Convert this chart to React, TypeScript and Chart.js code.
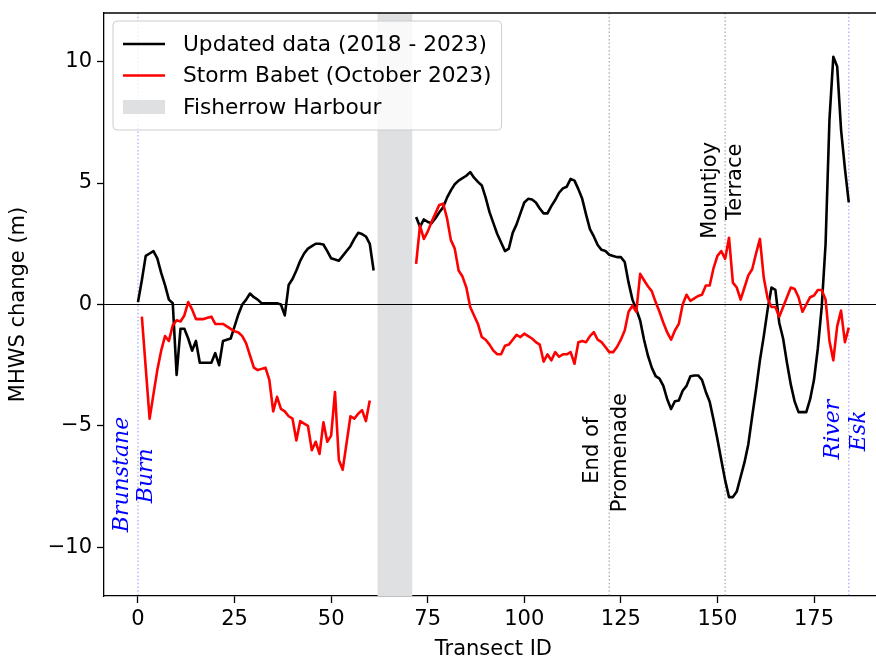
import React, { useEffect, useRef } from "react";
import { Chart, registerables } from "chart.js";

Chart.register(...registerables);

// ---------- data ----------
const xTickValues = [0, 25, 50, 75, 100, 125, 150, 175];
const yTickValues = [-10, -5, 0, 5, 10];

const seg1BlackStart = 0;
const seg1Black = [
  0.1, 1.0, 2.0, 2.1, 2.2, 1.9, 1.3, 0.8, 0.2, 0.05,
  -2.9, -1.0, -1.0, -1.4, -1.9, -1.5, -2.4, -2.4, -2.4, -2.4,
  -2.0, -2.5, -1.5, -1.45, -1.4, -0.9, -0.4, 0.0, 0.2, 0.45,
  0.3, 0.2, 0.05, 0.05, 0.05, 0.05, 0.05, 0.0, -0.45, 0.8,
  1.05, 1.4, 1.8, 2.1, 2.3, 2.4, 2.5, 2.5, 2.47, 2.2,
  1.9, 1.85, 1.8, 2.0, 2.2, 2.4, 2.7, 2.95, 2.9, 2.8,
  2.5, 1.4,
];

const seg1RedStart = 1;
const seg1Red = [
  -0.5, -2.6, -4.7, -3.7, -2.7, -1.9, -1.3, -1.5, -0.86, -0.65,
  -0.7, -0.45, 0.1, -0.2, -0.6, -0.6, -0.6, -0.55, -0.5, -0.8,
  -0.8, -0.8, -0.9, -1.0, -1.1, -1.15, -1.3, -1.6, -2.1, -2.6,
  -2.7, -2.65, -2.6, -3.1, -4.4, -3.8, -4.3, -4.4, -4.6, -4.7,
  -5.6, -4.8, -4.9, -5.0, -6.0, -5.65, -6.15, -4.85, -5.65, -5.4,
  -3.6, -6.4, -6.8, -5.7, -4.6, -4.7, -4.5, -4.35, -4.8, -3.95,
];

const seg2Start = 72;
const seg2Black = [
  3.6, 3.2, 3.5, 3.4, 3.35, 3.55, 3.8, 4.0, 4.4, 4.7,
  4.95, 5.1, 5.2, 5.3, 5.45, 5.22, 5.05, 4.9, 4.4, 3.8,
  3.35, 2.9, 2.55, 2.2, 2.3, 2.95, 3.3, 3.75, 4.2, 4.35,
  4.32, 4.2, 3.95, 3.75, 3.75, 4.05, 4.3, 4.6, 4.78, 4.85,
  5.17, 5.1, 4.75, 4.35, 3.7, 3.1, 2.8, 2.45, 2.25, 2.2,
  2.05, 2.0, 1.95, 1.95, 1.75, 0.9, 0.2, -0.2, -0.66, -1.45,
  -2.1, -2.6, -2.95, -3.05, -3.35, -3.9, -4.3, -3.98, -3.95, -3.55,
  -3.35, -2.95, -2.92, -2.92, -3.1, -3.6, -4.0, -4.75, -5.55, -6.4,
  -7.24, -7.93, -7.93, -7.7, -7.1, -6.5, -5.75, -4.6, -3.5, -2.3,
  -1.3, -0.2, 0.7, 0.6, -0.75, -1.4, -2.4, -3.3, -4.0, -4.43,
  -4.43, -4.43, -3.9, -3.1, -1.8, -0.1, 2.5, 7.6, 10.2, 9.8,
  7.2, 5.6, 4.2,
];
const seg2Red = [
  1.67, 3.25, 2.7, 3.0, 3.4, 3.75, 4.1, 4.15, 3.55, 2.65,
  2.3, 1.4, 1.15, 0.7, -0.1, -0.45, -0.8, -1.34, -1.45, -1.65,
  -1.9, -2.05, -2.05, -1.7, -1.65, -1.45, -1.25, -1.34, -1.2, -1.3,
  -1.4, -1.55, -1.65, -2.35, -2.05, -2.3, -1.96, -2.15, -2.05, -2.05,
  -1.96, -2.44, -1.55, -1.5, -1.55, -1.3, -1.14, -1.45, -1.55, -1.75,
  -1.96, -1.96, -1.75, -1.45, -1.07, -0.3, -0.05, -0.3, 1.26, 1.0,
  0.75, 0.55, 0.1, -0.3, -0.75, -1.15, -1.45, -1.07, -0.8, 0.0,
  0.4, 0.15, 0.25, 0.35, 0.4, 0.78, 0.78, 1.5, 2.0, 2.2,
  1.88, 2.75, 0.9, 0.7, 0.2, 0.7, 1.2, 1.45, 2.1, 2.7,
  1.1, 0.25, -0.1, -0.1, -0.5, -0.1, 0.3, 0.7, 0.64, 0.3,
  -0.3, 0.0, 0.3, 0.37, 0.6, 0.6, 0.2, -1.5, -2.3, -0.9,
  -0.25, -1.55, -0.95,
];

const gapX = 66;
const harbourRange = [62, 71];
const riverMouths = [0, 184];
const landmarks = [122, 152];

const seriesLabels = [
  "Updated data (2018 - 2023)",
  "Storm Babet (October 2023)",
  "Fisherrow Harbour",
];

type Note = { text: string; x: number; y: number; color: string; serif: boolean };
const notes: Note[] = [
  { text: "Brunstane", x: -4.1, y: -7.0, color: "#0000ff", serif: true },
  { text: "Burn", x: 2.1, y: -7.05, color: "#0000ff", serif: true },
  { text: "End of", x: 117.8, y: -6.0, color: "#000000", serif: false },
  { text: "Promenade", x: 125.0, y: -6.1, color: "#000000", serif: false },
  { text: "Mountjoy", x: 148.3, y: 4.7, color: "#000000", serif: false },
  { text: "Terrace", x: 154.8, y: 5.05, color: "#000000", serif: false },
  { text: "River", x: 179.9, y: -5.15, color: "#0000ff", serif: true },
  { text: "Esk", x: 186.6, y: -5.2, color: "#0000ff", serif: true },
];

// ---------- helpers ----------
const SANS = '"DejaVu Sans", sans-serif';
const SERIF = '"DejaVu Serif", serif';
const FS = 21;
const LEGEND_FS = 21.7;

function toPoints(start: number, vals: number[]) {
  return vals.map((v, i) => ({ x: start + i, y: v }));
}
function fmt(v: number) {
  return v < 0 ? "\u2212" + Math.abs(v) : String(v);
}

const blackPoints = [...toPoints(seg1BlackStart, seg1Black), { x: gapX, y: null }, ...toPoints(seg2Start, seg2Black)];
const redPoints = [...toPoints(seg1RedStart, seg1Red), { x: gapX, y: null }, ...toPoints(seg2Start, seg2Red)];

const decor = {
  id: "decor",
  beforeDatasetsDraw(chart: any) {
    const { ctx, chartArea: a, scales } = chart;
    const xs = scales.x;
    const ys = scales.y;
    ctx.save();
    ctx.beginPath();
    ctx.rect(a.left, a.top, a.right - a.left, a.bottom - a.top);
    ctx.clip();
    const h0 = xs.getPixelForValue(harbourRange[0]);
    const h1 = xs.getPixelForValue(harbourRange[1]);
    ctx.fillStyle = "#dfe0e2";
    ctx.fillRect(h0, a.top, h1 - h0, a.bottom - a.top);
    ctx.lineWidth = 1.4;
    ctx.setLineDash([1.5, 2.2]);
    ctx.strokeStyle = "rgba(0,0,255,0.3)";
    for (const v of riverMouths) {
      const p = xs.getPixelForValue(v);
      ctx.beginPath();
      ctx.moveTo(p, a.top);
      ctx.lineTo(p, a.bottom);
      ctx.stroke();
    }
    ctx.strokeStyle = "rgba(128,128,128,0.6)";
    for (const v of landmarks) {
      const p = xs.getPixelForValue(v);
      ctx.beginPath();
      ctx.moveTo(p, a.top);
      ctx.lineTo(p, a.bottom);
      ctx.stroke();
    }
    ctx.setLineDash([]);
    const z = ys.getPixelForValue(0);
    ctx.strokeStyle = "#000";
    ctx.lineWidth = 1.2;
    ctx.beginPath();
    ctx.moveTo(a.left, z);
    ctx.lineTo(a.right, z);
    ctx.stroke();
    ctx.restore();
  },
  afterDatasetsDraw(chart: any) {
    const { ctx, chartArea: a, scales } = chart;
    const xs = scales.x;
    const ys = scales.y;
    ctx.save();
    ctx.strokeStyle = "#000";
    ctx.lineWidth = 1.3;
    ctx.beginPath();
    ctx.moveTo(a.left, a.top);
    ctx.lineTo(a.right, a.top);
    ctx.stroke();

    for (const n of notes) {
      const px = xs.getPixelForValue(n.x);
      const py = ys.getPixelForValue(n.y);
      ctx.save();
      ctx.translate(px, py);
      ctx.rotate(-Math.PI / 2);
      ctx.fillStyle = n.color;
      ctx.font = n.serif ? `italic 22px ${SERIF}` : `${FS}px ${SANS}`;
      ctx.textAlign = "center";
      ctx.textBaseline = "middle";
      ctx.fillText(n.text, 0, 0);
      ctx.restore();
    }

    // legend
    ctx.font = `${LEGEND_FS}px ${SANS}`;
    const tw = Math.max(...seriesLabels.map((s) => ctx.measureText(s).width));
    const bx = a.left + 9;
    const by = a.top + 8;
    const hx0 = bx + 10;
    const hx1 = hx0 + 42;
    const tx = hx1 + 18;
    const bw = tx + tw + 10 - bx;
    const bh = 109;
    const r = 4;
    ctx.beginPath();
    ctx.moveTo(bx + r, by);
    ctx.lineTo(bx + bw - r, by);
    ctx.arcTo(bx + bw, by, bx + bw, by + r, r);
    ctx.lineTo(bx + bw, by + bh - r);
    ctx.arcTo(bx + bw, by + bh, bx + bw - r, by + bh, r);
    ctx.lineTo(bx + r, by + bh);
    ctx.arcTo(bx, by + bh, bx, by + bh - r, r);
    ctx.lineTo(bx, by + r);
    ctx.arcTo(bx, by, bx + r, by, r);
    ctx.closePath();
    ctx.fillStyle = "rgba(255,255,255,0.8)";
    ctx.fill();
    ctx.strokeStyle = "#cccccc";
    ctx.lineWidth = 1;
    ctx.stroke();
    const rows = [by + 23, by + 54.5, by + 86];
    const colors = ["#000000", "#ff0000"];
    for (let i = 0; i < 2; i++) {
      ctx.strokeStyle = colors[i];
      ctx.lineWidth = 2.6;
      ctx.beginPath();
      ctx.moveTo(hx0, rows[i]);
      ctx.lineTo(hx1, rows[i]);
      ctx.stroke();
    }
    ctx.fillStyle = "#dfe0e2";
    ctx.fillRect(hx0, rows[2] - 7, hx1 - hx0, 14);
    ctx.fillStyle = "#000";
    ctx.textAlign = "left";
    ctx.textBaseline = "middle";
    for (let i = 0; i < 3; i++) ctx.fillText(seriesLabels[i], tx, rows[i] + 1);

    // axis titles
    ctx.font = `${FS}px ${SANS}`;
    ctx.textAlign = "center";
    ctx.textBaseline = "middle";
    ctx.fillText("Transect ID", xs.getPixelForValue(92), 650);
    ctx.save();
    ctx.translate(19, (a.top + a.bottom) / 2);
    ctx.rotate(-Math.PI / 2);
    ctx.fillText("MHWS change (m)", 0, 0);
    ctx.restore();
    ctx.restore();
  },
};

export default function App() {
  const ref = useRef<HTMLCanvasElement | null>(null);
  useEffect(() => {
    if (!ref.current) return;
    const chart = new Chart(ref.current, {
      type: "line",
      data: {
        datasets: [
          {
            label: seriesLabels[1],
            data: redPoints as any,
            borderColor: "#ff0000",
            borderWidth: 2.6,
            pointRadius: 0,
            tension: 0,
            spanGaps: false,
            borderJoinStyle: "round",
            order: 1,
          },
          {
            label: seriesLabels[0],
            data: blackPoints as any,
            borderColor: "#000000",
            borderWidth: 2.6,
            pointRadius: 0,
            tension: 0,
            spanGaps: false,
            borderJoinStyle: "round",
            order: 2,
          },
        ],
      },
      options: {
        animation: false,
        responsive: false,
        devicePixelRatio: 1,
        layout: { padding: { top: 13, right: 0, bottom: 0, left: 0 } },
        plugins: { legend: { display: false }, tooltip: { enabled: false } },
        scales: {
          x: {
            type: "linear",
            min: -8.8,
            max: 191.05,
            afterBuildTicks: (s: any) => {
              s.ticks = xTickValues.map((v) => ({ value: v }));
            },
            afterFit: (s: any) => {
              s.height = 65;
              s.paddingLeft = 0;
              s.paddingRight = 0;
            },
            grid: { display: true, drawOnChartArea: false, drawTicks: true, tickLength: 7, color: "#000", tickWidth: 1.3 },
            border: { display: true, color: "#000", width: 1.3 },
            ticks: {
              color: "#000",
              font: { family: SANS, size: FS },
              padding: 4,
              maxRotation: 0,
              autoSkip: false,
              callback: (v: any) => fmt(Number(v)),
            },
          },
          y: {
            type: "linear",
            min: -12,
            max: 12,
            afterBuildTicks: (s: any) => {
              s.ticks = yTickValues.map((v) => ({ value: v }));
            },
            afterFit: (s: any) => {
              s.width = 104;
              s.paddingTop = 0;
              s.paddingBottom = 0;
            },
            grid: { display: true, drawOnChartArea: false, drawTicks: true, tickLength: 7, color: "#000", tickWidth: 1.3 },
            border: { display: true, color: "#000", width: 1.3 },
            ticks: {
              color: "#000",
              font: { family: SANS, size: FS },
              padding: 5,
              autoSkip: false,
              callback: (v: any) => fmt(Number(v)),
            },
          },
        },
      },
      plugins: [decor],
    });
    return () => chart.destroy();
  }, []);
  return (
    <div style={{ position: "fixed", left: 0, top: 0, width: 876, height: 661, background: "#fff" }}>
      <canvas ref={ref} width={876} height={661} style={{ display: "block" }} />
    </div>
  );
}
